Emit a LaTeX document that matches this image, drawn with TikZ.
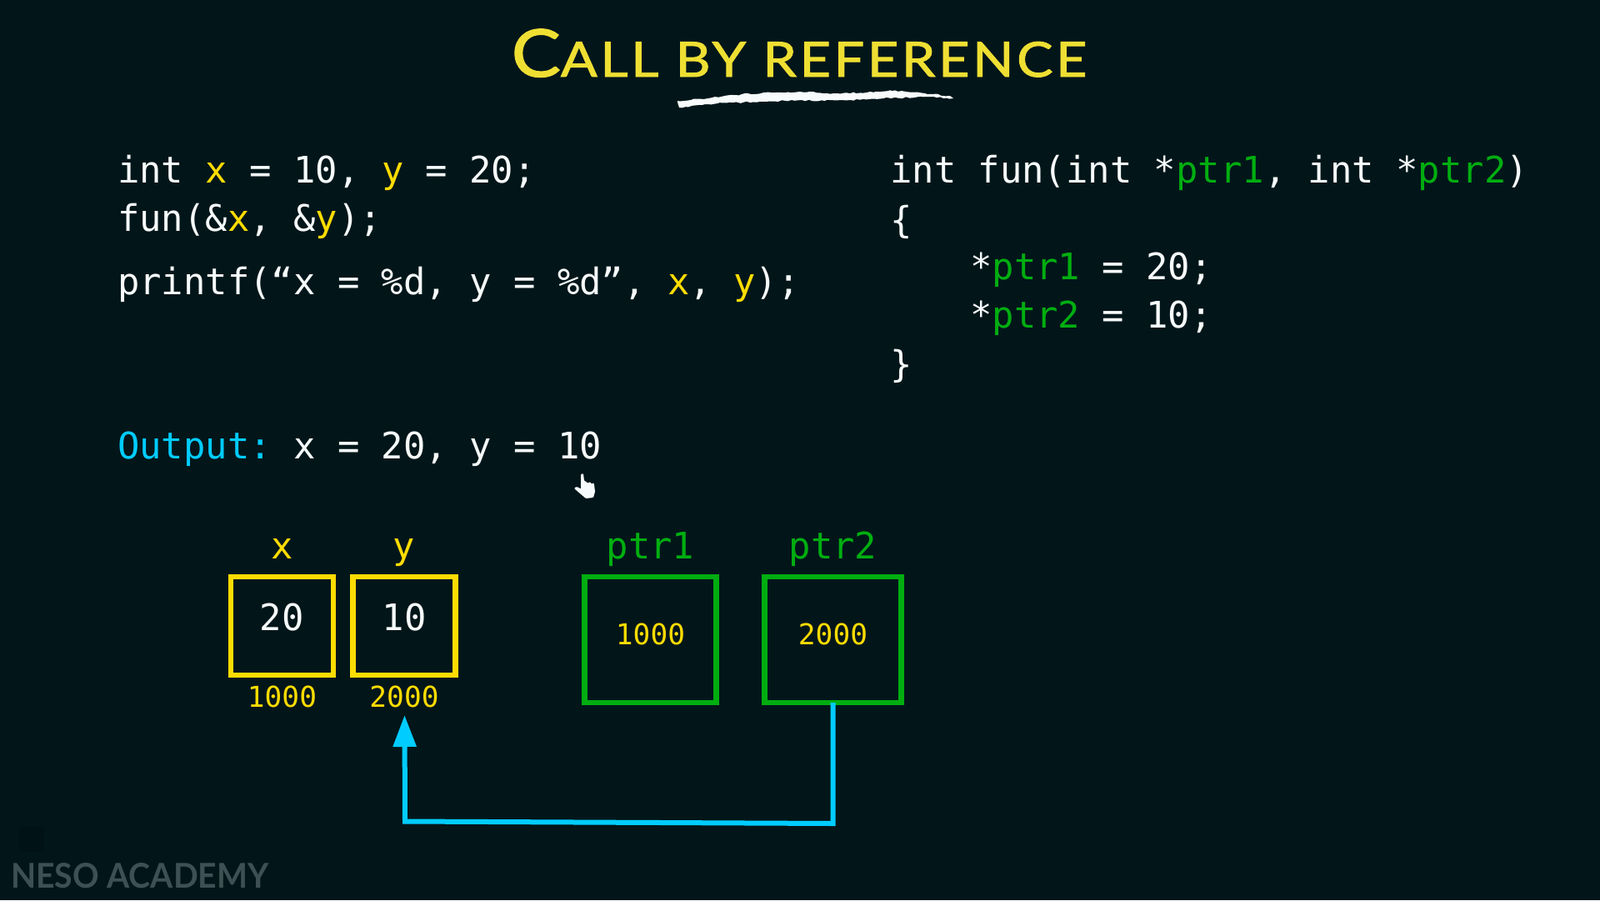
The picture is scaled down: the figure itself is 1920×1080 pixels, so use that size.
\documentclass[tikz,border=0pt]{standalone}
\usepackage{fontspec}
\setmainfont{Lato}
\setmonofont{DejaVu Sans Mono}
\newfontfamily\headfont[LetterSpace=6,FakeStretch=1.12,FakeBold=1.6]{Lato}
\newfontfamily\brandfont[FakeStretch=0.955]{Lato}
\usetikzlibrary{arrows.meta,decorations.pathmorphing}
\definecolor{slate}{HTML}{02161A}
\definecolor{chalk}{HTML}{F7FBFB}
\definecolor{titleyel}{HTML}{EFDF33}
\definecolor{varyel}{HTML}{FFDC00}
\definecolor{ptrgreen}{HTML}{00AE10}
\definecolor{wirecyan}{HTML}{00CCFF}
\definecolor{wmgrey}{HTML}{3E5053}
\newcommand{\cvar}[1]{\textcolor{varyel}{#1}}
\newcommand{\cptr}[1]{\textcolor{ptrgreen}{#1}}
\tikzset{
	code/.style={anchor=base west,inner sep=0pt,text=chalk,font=\ttfamily\fontsize{43.85}{44}\selectfont},
	caption/.style={anchor=base,inner sep=0pt,font=\ttfamily\fontsize{43.85}{44}\selectfont},
	addr/.style={anchor=base,inner sep=0pt,text=varyel,font=\ttfamily\fontsize{34.5}{34.5}\selectfont},
	varbox/.style={draw=varyel,line width=6.5pt,minimum width=123pt,minimum height=118pt,outer sep=0pt,inner sep=0pt},
	ptrbox/.style={draw=ptrgreen,line width=6.5pt,minimum height=151pt,outer sep=0pt,inner sep=0pt},
	wire/.style={draw=wirecyan,line width=6pt,-{Triangle[length=38pt,width=27pt]}},
}
\begin{document}
\begin{tikzpicture}[x=1pt,y=-1pt]
	\fill[slate] (0,0) rectangle (1920,1080);
	\useasboundingbox (0,0) rectangle (1920,1080);
%		title
	\node (title) at (959,92) [anchor=base,inner sep=0pt,text=titleyel,font=\headfont\fontsize{58}{58}\selectfont] {{\fontsize{79}{79}\selectfont C}ALL BY REFERENCE};
	\fill[chalk,decorate,decoration={random steps,segment length=4pt,amplitude=1pt}] (813,121) -- (850,118) -- (890,113) -- (930,111) -- (960,110) -- (1000,112) -- (1040,111) -- (1070,109) -- (1110,112) -- (1140,115) -- (1144,118) -- (1120,116) -- (1090,117) -- (1060,118) -- (1020,120) -- (990,121) -- (950,120) -- (920,122) -- (880,123) -- (850,125) -- (815,129) -- cycle;
%		caller
	\node (line1) at (141,219) [code] {int \cvar{x} = 10, \cvar{y} = 20;};
	\node (line2) at (141,277) [code] {fun(\&\cvar{x}, \&\cvar{y});};
	\node (line3) at (141,353) [code] {printf(“x = \%d, y = \%d”, \cvar{x}, \cvar{y});};
	\node (output) at (141,550) [code] {\textcolor{wirecyan}{Output:} x = 20, y = 10};
%		callee
	\node (head) at (1068,219) [code] {int fun(int *\cptr{ptr1}, int *\cptr{ptr2})};
	\node (open) at (1068,279) [code] {\{};
	\node (body1) at (1164,335) [code] {*\cptr{ptr1} = 20;};
	\node (body2) at (1164,393) [code] {*\cptr{ptr2} = 10;};
	\node (close) at (1068,452) [code] {\}};
%		cursor
	\fill[chalk,rounded corners=1pt] (697,569) -- (700,568) -- (701,577) -- (704,578) -- (705,580) -- (708,578) -- (710,581) -- (712,579) -- (713,581) -- (714,590) -- (712,597) -- (703,598) -- (696,592) -- (689,586) -- (691,584) -- (695,585) -- (697,587) -- cycle;
%		variables
	\node (boxx) at (338.5,751) [varbox] {};
	\node (boxy) at (485,751) [varbox] {};
	\node (namex) at (338.5,670) [caption,text=varyel] {x};
	\node (namey) at (485,670) [caption,text=varyel] {y};
	\node (valx) at (338,756) [caption,text=chalk] {20};
	\node (valy) at (485,756) [caption,text=chalk] {10};
	\node (addrx) at (338.5,848) [addr] {1000};
	\node (addry) at (485,848) [addr] {2000};
%		pointers
	\node (boxp1) at (780.5,767.5) [ptrbox,minimum width=158pt] {};
	\node (boxp2) at (999.5,767.5) [ptrbox,minimum width=164pt] {};
	\node (namep1) at (780.5,670) [caption,text=ptrgreen] {ptr1};
	\node (namep2) at (999.5,670) [caption,text=ptrgreen] {ptr2};
	\node (valp1) at (780.5,773) [addr] {1000};
	\node (valp2) at (999.5,773) [addr] {2000};
	\coordinate (bend) at (999.5,988);
	\coordinate (turn) at (486,985.5);
	\coordinate (tip) at (485.5,858);
	\draw[wire] (boxp2.south) -- (bend) -- (turn) -- (tip);
%		watermark
	\node (logo) at (37.5,1007) [fill=black,fill opacity=0.15,minimum size=30pt,inner sep=0pt] {};
	\node (brand) at (13,1065) [anchor=base west,inner sep=0pt,text=wmgrey,font=\brandfont\fontsize{41}{41}\selectfont\bfseries] {NESO ACADEMY};
\end{tikzpicture}
\end{document}
